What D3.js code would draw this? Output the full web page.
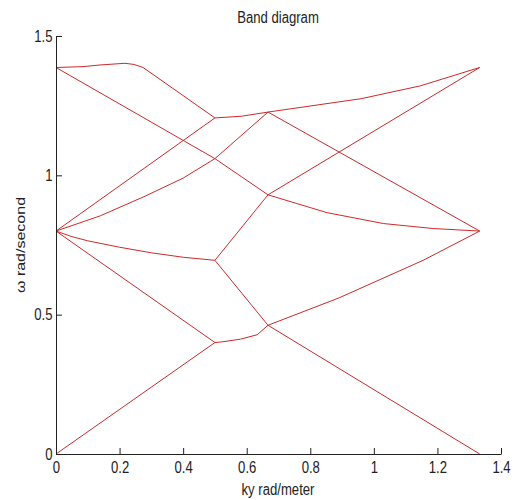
<!DOCTYPE html>
<html>
<head>
<meta charset="utf-8">
<script src="https://d3js.org/d3.v7.min.js"></script>
<style>
  body { margin: 0; background: #fff; }
  text { font-family: "Liberation Sans", Arial, sans-serif; fill: #222; }
</style>
</head>
<body>
<svg width="514" height="500"></svg>
<script>
    // tick values
    var xTicks = [0, 0.2, 0.4, 0.6, 0.8, 1, 1.2, 1.4];
    var yTicks = [0, 0.5, 1, 1.5];

    // band branches as [ky, omega]
    var band1 = [[0, 0], [0.5, 0.4], [0.52, 0.402], [0.58, 0.412], [0.633, 0.428], [0.667, 0.462], [0.89, 0.56], [1.155, 0.695], [1.333, 0.8]];
    var band2 = [[0, 0.8], [0.5, 0.4]];
    var band3 = [[0, 0.8], [0.05, 0.78], [0.1, 0.765], [0.2, 0.742], [0.3, 0.722], [0.4, 0.706], [0.5, 0.695], [0.667, 0.462], [1.333, 0]];
    var band4 = [[0.5, 0.695], [0.667, 0.93], [1.333, 1.387]];
    var band5 = [[0, 0.8], [0.14, 0.855], [0.28, 0.925], [0.4, 0.99], [0.5, 1.06], [0.667, 1.227], [1.333, 0.8]];
    var band6 = [[0, 1.387], [0.5, 1.06], [0.667, 0.93], [0.853, 0.866], [1.03, 0.827], [1.187, 0.809], [1.333, 0.8]];
    var band7 = [[0, 0.8], [0.5, 1.206], [0.583, 1.212], [0.667, 1.227], [0.96, 1.275], [1.146, 1.321], [1.333, 1.387]];
    var band8 = [[0, 1.387], [0.085, 1.39], [0.138, 1.396], [0.217, 1.402], [0.245, 1.398], [0.274, 1.387], [0.5, 1.206]];
    var bands = [band1, band2, band3, band4, band5, band6, band7, band8];

    var svg = d3.select("svg");
    var sx = 0.82; // text is squeezed sideways in the original

    var x = d3.scaleLinear().domain([0, 1.4]).range([56, 501]);
    var y = d3.scaleLinear().domain([0, 1.5]).range([454, 36]);

    var line = d3.line()
        .x(function (d) { return x(d[0]); })
        .y(function (d) { return y(d[1]); });

    svg.selectAll(".band")
        .data(bands)
        .enter().append("path")
        .attr("class", "band")
        .attr("d", line)
        .attr("fill", "none")
        .attr("stroke", "#cc2a2a")
        .attr("stroke-width", 1);

    var gx = svg.append("g")
        .attr("transform", "translate(0,454)")
        .call(d3.axisBottom(x).tickValues(xTicks).tickFormat(d3.format("")).tickSize(-6).tickSizeOuter(0).tickPadding(8));
    gx.selectAll("text")
        .attr("font-size", "16px")
        .attr("transform", "scale(" + sx + ",1)");

    var gy = svg.append("g")
        .attr("transform", "translate(56,0)")
        .call(d3.axisLeft(y).tickValues(yTicks).tickFormat(d3.format("")).tickSize(-6).tickSizeOuter(0).tickPadding(4.3));
    gy.selectAll("text")
        .attr("font-size", "16px")
        .attr("transform", "scale(" + sx + ",1)");

    svg.selectAll(".domain, .tick line").attr("stroke", "#222");
    svg.selectAll(".tick text").attr("fill", "#222").attr("font-family", "Liberation Sans, Arial, sans-serif");

    svg.append("text")
        .attr("transform", "translate(278,23) scale(" + sx + ",1)")
        .attr("text-anchor", "middle")
        .attr("font-size", "16px")
        .text("Band diagram");

    svg.append("text")
        .attr("transform", "translate(278,495) scale(" + sx + ",1)")
        .attr("text-anchor", "middle")
        .attr("font-size", "16px")
        .text("ky rad/meter");

    svg.append("text")
        .attr("transform", "translate(25,245) rotate(-90) scale(1," + sx + ")")
        .attr("text-anchor", "middle")
        .attr("font-size", "16px")
        .text("ω rad/second");
</script>
</body>
</html>
